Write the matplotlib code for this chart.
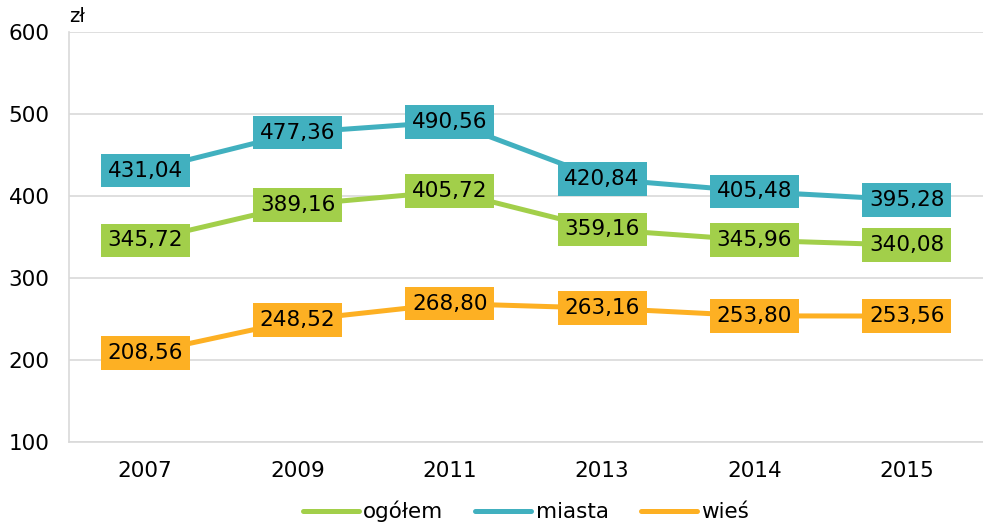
import matplotlib.pyplot as plt
import numpy as np

plt.rcParams['font.family'] = ['DejaVu Sans']

years = ['2007', '2009', '2011', '2013', '2014', '2015']
ogolem = [345.72, 389.16, 405.72, 359.16, 345.96, 340.08]
miasta = [431.04, 477.36, 490.56, 420.84, 405.48, 395.28]
wies = [208.56, 248.52, 268.80, 263.16, 253.80, 253.56]

series = [
    ('ogółem', ogolem, '#A2CF4A'),
    ('miasta', miasta, '#41B0BF'),
    ('wieś', wies, '#FDB023'),
]

fig = plt.figure(figsize=(9.83, 5.26), dpi=100)
ax = fig.add_axes([0.0702, 0.1597, 0.9298, 0.7795])

x = np.arange(len(years))
for name, vals, col in series:
    ax.plot(x, vals, color=col, linewidth=3.6, label=name, solid_capstyle='round', zorder=3)
    for xi, v in zip(x, vals):
        ax.text(xi, v, f'{v:.2f}'.replace('.', ','), ha='center', va='center',
                fontsize=15.5, color='black', zorder=4,
                bbox=dict(boxstyle='square,pad=0.32', facecolor=col, edgecolor='none'))

ax.set_xlim(-0.5, 5.5)
ax.set_ylim(100, 600)
ax.set_yticks([100, 200, 300, 400, 500, 600])
ax.set_xticks(x)
ax.set_xticklabels(years)
ax.tick_params(axis='both', length=0, labelsize=15.5, colors='black')
ax.tick_params(axis='x', pad=14)
ax.tick_params(axis='y', pad=14)
ax.grid(axis='y', color='#D9D9D9', linewidth=1.2)
ax.set_axisbelow(True)
for s in ['top', 'right']:
    ax.spines[s].set_visible(False)
for s in ['left', 'bottom']:
    ax.spines[s].set_color('#D9D9D9')
    ax.spines[s].set_linewidth(1.2)

ax.text(0.0, 1.015, 'zł', transform=ax.transAxes, fontsize=14, ha='left', va='bottom')

fig.legend(loc='lower center', bbox_to_anchor=(0.535, -0.03), ncol=3, frameon=False,
           fontsize=15.5, handlelength=2.6, handletextpad=0.2, columnspacing=1.5)

fig.savefig('out.png', dpi=100)
